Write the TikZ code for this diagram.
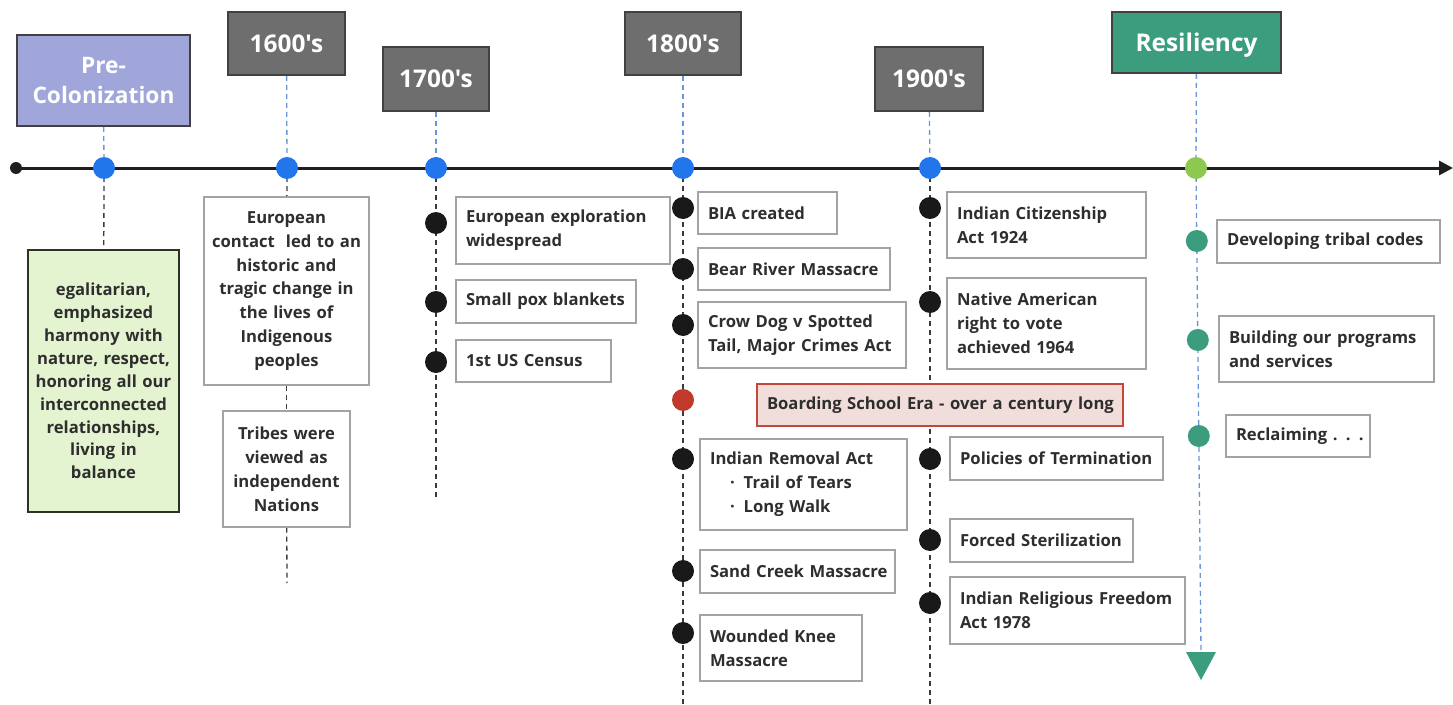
\documentclass[tikz,border=0pt]{standalone}
\usepackage{fontspec}
\newfontfamily\os{Open Sans}
\usetikzlibrary{arrows.meta}
\definecolor{txt}{HTML}{2E2E2E}
\definecolor{bluedot}{HTML}{2176EC}
\definecolor{bluedash}{HTML}{6A95D8}
\definecolor{blackdash}{HTML}{3A3A3A}
\definecolor{lav}{HTML}{A0A6D9}
\definecolor{hgray}{HTML}{6E6E6E}
\definecolor{teal}{HTML}{3B9C7E}
\definecolor{lgreen}{HTML}{8DC94E}
\definecolor{gfill}{HTML}{E4F3D0}
\definecolor{gborder}{HTML}{2A3424}
\definecolor{pfill}{HTML}{F1DEDA}
\definecolor{rborder}{HTML}{C4483A}
\definecolor{reddot}{HTML}{C0392B}
\definecolor{bgray}{HTML}{A3A3A3}
\definecolor{axiscol}{HTML}{1F1F1F}
\pgfdeclarelayer{bg}
\pgfsetlayers{bg,main}
\newcommand\oneline[1]{\mbox{#1}}
\tikzset{
  evbox/.style={draw=bgray, line width=1.3bp, fill=white, align=left, inner xsep=10bp, inner ysep=0bp,
    font=\os\bfseries\fontsize{16.7}{24}\selectfont, text=txt},
  cbox/.style={evbox, align=center, inner xsep=3bp},
  hdr/.style={draw=axiscol!85, line width=1.8bp, fill=hgray, text=white, align=center, inner sep=0bp,
    font=\os\bfseries\fontsize{24.5}{31}\selectfont},
  bdot/.style={circle, fill=bluedot, minimum size=22bp, inner sep=0bp},
  kdot/.style={circle, fill=black!90, minimum size=22bp, inner sep=0bp},
  tdot/.style={circle, fill=teal, minimum size=22bp, inner sep=0bp},
  bdash/.style={draw=bluedash, line width=1.3bp, dash pattern=on 5bp off 4bp},
  kdash/.style={draw=blackdash, line width=1.3bp, dash pattern=on 5bp off 4bp},
}
\begin{document}
\begin{tikzpicture}[x=1bp,y=-1bp]
\useasboundingbox (0,0) rectangle (1453,705);

% axis
\coordinate (axstart) at (16,168);
\coordinate (axend) at (1453,168);
\draw[line width=3bp, draw=axiscol, -{Triangle[length=14bp,width=14bp]}] (axstart) -- (axend);
\node[circle, fill=axiscol, minimum size=12bp, inner sep=0bp] (s0) at (axstart) {};

% headers
\node[hdr, fill=lav, minimum width=173bp, minimum height=91bp, font=\os\bfseries\fontsize{22.8}{31}\selectfont] (hpre) at (103.5,80.5) {Pre-\\Colonization};
\node[hdr, minimum width=117bp, minimum height=63bp] (h1600) at (286.5,43.5) {1600's};
\node[hdr, minimum width=106bp, minimum height=64bp] (h1700) at (436,79) {1700's};
\node[hdr, minimum width=116bp, minimum height=63bp] (h1800) at (683,43.5) {1800's};
\node[hdr, minimum width=108bp, minimum height=64bp] (h1900) at (929,79) {1900's};
\node[hdr, fill=teal, minimum width=169bp, minimum height=61bp, text depth=0bp] (hres) at (1196.5,42.5) {Resiliency};

% axis dots
\node[bdot] (dpre) at (104,168) {};
\node[bdot] (d1600) at (287,168) {};
\node[bdot] (d1700) at (436,168) {};
\node[bdot] (d1800) at (683,168) {};
\node[bdot] (d1900) at (930,168) {};
\node[circle, fill=lgreen, minimum size=22bp, inner sep=0bp] (dres) at (1196,168) {};

% pre-colonization
\node[cbox, draw=gborder, line width=2bp, fill=gfill, minimum width=151bp, minimum height=262bp, text width=145bp, font=\os\bfseries\fontsize{16.7}{23}\selectfont] (gbox) at (103.5,381)
  {egalitarian,\\emphasized\\harmony with\\nature, respect,\\honoring all our\\interconnected\\relationships,\\living in\\balance};

% 1600
\node[cbox, minimum width=165bp, minimum height=188bp, text width=159bp] (b16a) at (286.5,291)
  {European\\contact\ \ led to an\\historic and\\tragic change in\\the lives of\\Indigenous\\peoples};
\node[cbox, minimum width=127bp, minimum height=116bp, text width=121bp] (b16b) at (286.5,469)
  {Tribes were\\viewed as\\independent\\Nations};
\coordinate (e1600) at (287,583);

% 1700
\node[kdot] (k17a) at (436,223) {};
\node[kdot] (k17b) at (436,302) {};
\node[kdot] (k17c) at (436,362) {};
\node[evbox, minimum width=214bp, minimum height=67bp, text width=194bp] (b17a) at (563,230.5) {\oneline{European exploration}\\\oneline{widespread}};
\node[evbox, minimum width=180bp, minimum height=43bp, text width=160bp] (b17b) at (546,301.5) {\oneline{Small pox blankets}};
\node[evbox, minimum width=155bp, minimum height=42bp, text width=135bp] (b17c) at (533.5,361) {\oneline{1st US Census}};
\coordinate (e1700) at (436,500);

% 1800
\node[kdot] (k18a) at (683,208) {};
\node[kdot] (k18b) at (683,269) {};
\node[kdot] (k18c) at (683,325) {};
\node[circle, fill=reddot, minimum size=22bp, inner sep=0bp] (k18d) at (683,400) {};
\node[kdot] (k18e) at (683,459) {};
\node[kdot] (k18f) at (683,571) {};
\node[kdot] (k18g) at (683,633) {};
\node[evbox, minimum width=139bp, minimum height=42bp, text width=119bp] (b18a) at (767.5,213) {\oneline{BIA created}};
\node[evbox, minimum width=192bp, minimum height=42bp, text width=172bp] (b18b) at (794,269) {\oneline{Bear River Massacre}};
\node[evbox, minimum width=208bp, minimum height=66bp, text width=188bp] (b18c) at (802,335) {\oneline{Crow Dog v Spotted}\\\oneline{Tail, Major Crimes Act}};
\node[evbox, draw=rborder, line width=2bp, fill=pfill, minimum width=366bp, minimum height=42bp, text width=346bp] (b18d) at (940,405) {\oneline{Boarding School Era - over a century long}};
\node[evbox, minimum width=207bp, minimum height=91bp, text width=187bp] (b18e) at (803.5,484.5)
  {\oneline{Indian Removal Act}\\\oneline{\hspace*{20bp}\textperiodcentered\hspace{9bp}Trail of Tears}\\\oneline{\hspace*{20bp}\textperiodcentered\hspace{9bp}Long Walk}};
\node[evbox, minimum width=195bp, minimum height=43bp, text width=175bp] (b18f) at (797.5,571.5) {\oneline{Sand Creek Massacre}};
\node[evbox, minimum width=162bp, minimum height=66bp, text width=142bp] (b18g) at (781,648) {\oneline{Wounded Knee}\\\oneline{Massacre}};
\coordinate (e1800) at (683,705);

% 1900
\node[kdot] (k19a) at (930,208) {};
\node[kdot] (k19b) at (930,302) {};
\node[kdot] (k19c) at (930,459) {};
\node[kdot] (k19d) at (930,540) {};
\node[kdot] (k19e) at (930,603) {};
\node[evbox, minimum width=199bp, minimum height=66bp, text width=179bp] (b19a) at (1046.5,225) {\oneline{Indian Citizenship}\\\oneline{Act 1924}};
\node[evbox, minimum width=199bp, minimum height=91bp, text width=179bp] (b19b) at (1046.5,323.5) {\oneline{Native American}\\\oneline{right to vote}\\\oneline{achieved 1964}};
\node[evbox, minimum width=213bp, minimum height=43bp, text width=193bp] (b19c) at (1056.5,458.5) {\oneline{Policies of Termination}};
\node[evbox, minimum width=183bp, minimum height=43bp, text width=163bp] (b19d) at (1041.5,540.5) {\oneline{Forced Sterilization}};
\node[evbox, minimum width=235bp, minimum height=67bp, text width=215bp] (b19e) at (1067.5,610.5) {\oneline{Indian Religious Freedom}\\\oneline{Act 1978}};
\coordinate (e1900) at (930,705);

% resiliency
\node[tdot] (t1) at (1196.8,241) {};
\node[tdot] (t2) at (1197.8,340) {};
\node[tdot] (t3) at (1198.8,436) {};
\node[evbox, minimum width=223bp, minimum height=43bp, text width=203bp] (r1) at (1328.5,241.5) {\oneline{Developing tribal codes}};
\node[evbox, minimum width=215bp, minimum height=66bp, text width=195bp] (r2) at (1326.5,349) {\oneline{Building our programs}\\\oneline{and services}};
\node[evbox, minimum width=144bp, minimum height=42bp, text width=124bp] (r3) at (1298,436) {\oneline{Reclaiming . . .}};
\coordinate (tri) at (1201,652);
\fill[teal] (1186,652) -- (1216,652) -- (1201,680) -- cycle;

% connectors
\begin{pgfonlayer}{bg}
\draw[bdash] (hpre) -- (dpre.center);
\draw[kdash] (dpre.center) -- (gbox);
\draw[bdash] (h1600) -- (d1600.center);
\draw[kdash] (d1600.center) -- (b16a);
\draw[kdash] (b16a) -- (b16b);
\draw[kdash] (b16b) -- (e1600);
\draw[bdash] (h1700) -- (d1700.center);
\draw[kdash] (d1700.center) -- (e1700);
\draw[bdash] (h1800) -- (d1800.center);
\draw[kdash] (d1800.center) -- (e1800);
\draw[bdash] (h1900) -- (d1900.center);
\draw[kdash] (d1900.center) -- (e1900);
\draw[bdash] (hres) -- (dres.center);
\draw[bdash] (dres.center) -- (tri);
\end{pgfonlayer}
\end{tikzpicture}
\end{document}
